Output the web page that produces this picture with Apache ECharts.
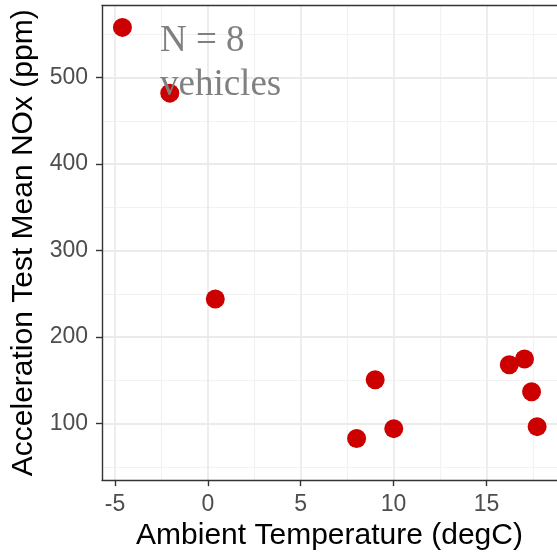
<!DOCTYPE html>
<html>
<head>
<meta charset="utf-8">
<script src="https://cdn.jsdelivr.net/npm/echarts@6/dist/echarts.min.js"></script>
<style>
html,body{margin:0;padding:0;background:#fff;}
#c{width:557px;height:556px;}
</style>
</head>
<body>
<div id="c"></div>
<script>
// Data
var ambientTemp = [-4.60, -2.05, 0.40, 8.01, 9.01, 10.01, 16.23, 17.05, 17.43, 17.73];
var meanNOx = [558, 482, 244, 82.7, 150.7, 94.2, 168, 174.6, 136.9, 96.5];
var xMajorTicks = [-5, 0, 5, 10, 15];
var xMinorTicks = [-2.5, 2.5, 7.5, 12.5, 17.5];
var yMajorTicks = [100, 200, 300, 400, 500];
var yMinorTicks = [50, 150, 250, 350, 450, 550];
var annotationLines = ['N = 8', 'vehicles'];

var xMin = -5.7, xMax = 18.8, yMin = 34.7, yMax = 583.3;

var chart = echarts.init(document.getElementById('c'), null, {renderer: 'canvas'});

var points = ambientTemp.map(function (t, i) { return [t, meanNOx[i]]; });

var gridLines = [];
xMinorTicks.forEach(function (v) { gridLines.push({xAxis: v, lineStyle: {color: '#f2f2f2', width: 1.2, type: 'solid'}}); });
yMinorTicks.forEach(function (v) { gridLines.push({yAxis: v, lineStyle: {color: '#f2f2f2', width: 1.2, type: 'solid'}}); });
xMajorTicks.forEach(function (v) { gridLines.push({xAxis: v, lineStyle: {color: '#ebebeb', width: 1.8, type: 'solid'}}); });
yMajorTicks.forEach(function (v) { gridLines.push({yAxis: v, lineStyle: {color: '#ebebeb', width: 1.8, type: 'solid'}}); });

var axisColor = '#333333';
var tickFont = {color: '#4d4d4d', fontSize: 23, fontFamily: 'Liberation Sans, Arial, sans-serif'};

chart.setOption({
  animation: false,
  backgroundColor: '#ffffff',
  grid: {left: 102, top: 5.5, right: -3, bottom: 74.3, containLabel: false},
  xAxis: [{
    type: 'value', min: xMin, max: xMax, z: 5,
    name: 'Ambient Temperature (degC)',
    nameLocation: 'middle', nameGap: 38,
    nameTextStyle: {color: '#000', fontSize: 30, fontFamily: 'Liberation Sans, Arial, sans-serif'},
    axisLine: {show: true, onZero: false, lineStyle: {color: axisColor, width: 1.4}},
    axisTick: {show: true, length: 6, customValues: xMajorTicks, lineStyle: {color: axisColor, width: 1.4}},
    axisLabel: Object.assign({show: true, margin: 13, customValues: xMajorTicks}, tickFont),
    splitLine: {show: false}, minorSplitLine: {show: false}
  }, {
    type: 'value', min: xMin, max: xMax, position: 'top', z: 5,
    axisLine: {show: true, onZero: false, lineStyle: {color: axisColor, width: 1.4}},
    axisTick: {show: false}, axisLabel: {show: false}, splitLine: {show: false}
  }],
  yAxis: [{
    type: 'value', min: yMin, max: yMax, z: 5,
    name: 'Acceleration Test Mean NOx (ppm)',
    nameLocation: 'middle', nameGap: 62, nameRotate: 90,
    nameTextStyle: {color: '#000', fontSize: 30, fontFamily: 'Liberation Sans, Arial, sans-serif'},
    axisLine: {show: true, onZero: false, lineStyle: {color: axisColor, width: 1.4}},
    axisTick: {show: true, length: 6, customValues: yMajorTicks, lineStyle: {color: axisColor, width: 1.4}},
    axisLabel: Object.assign({show: true, margin: 14, customValues: yMajorTicks}, tickFont),
    splitLine: {show: false}, minorSplitLine: {show: false}
  }],
  graphic: [{
    type: 'text', left: 160, top: 19, z: 20,
    style: {
      text: annotationLines.join('\n'),
      fill: '#808080',
      font: '37px "Liberation Serif", "Times New Roman", serif',
      lineHeight: 44
    }
  }],
  series: [{
    type: 'line', data: [], z: 1, silent: true,
    markLine: {silent: true, symbol: 'none', label: {show: false}, animation: false, data: gridLines}
  }, {
    type: 'scatter', z: 10,
    data: points,
    symbol: 'circle', symbolSize: 19,
    itemStyle: {color: '#cc0000', opacity: 1}
  }]
});
</script>
</body>
</html>
